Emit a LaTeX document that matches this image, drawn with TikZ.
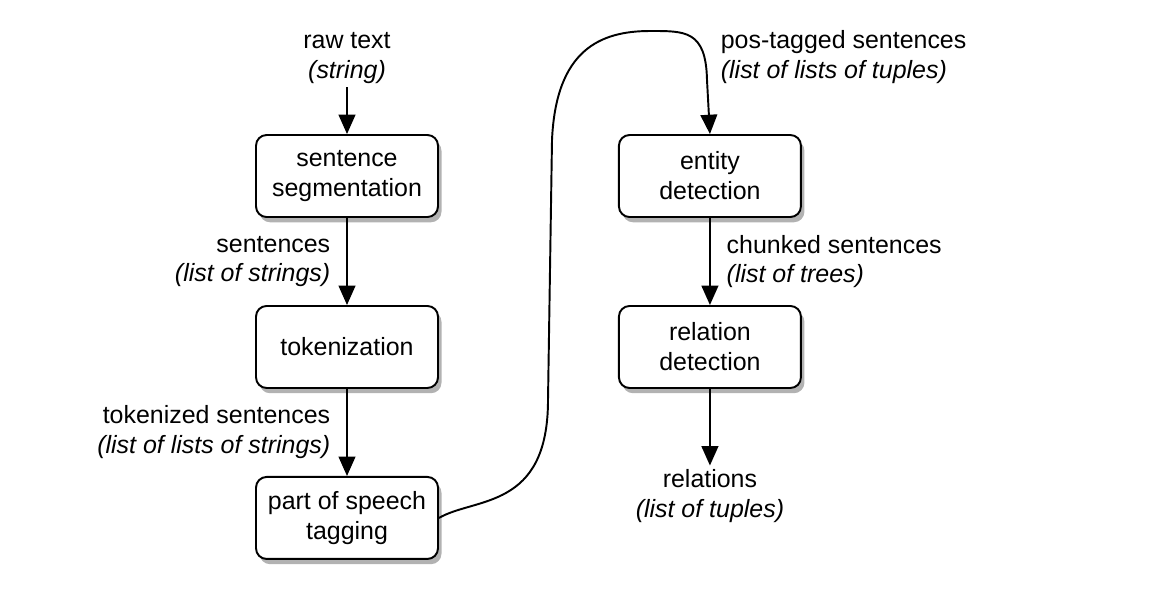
\documentclass[tikz,border=0pt]{standalone}
\usepackage{fontspec}
\setmainfont{Liberation Sans}
\usetikzlibrary{shadows, arrows.meta, positioning}

\tikzset{
  stage/.style={draw, line width=1.1pt, rounded corners=6pt, fill=white,
    minimum width=3.64cm, minimum height=1.64cm, align=center,
    drop shadow={shadow xshift=2pt, shadow yshift=-3pt, opacity=0.3, fill=black}},
  datum/.style={align=center, inner sep=2pt},
  flow/.style={-{Triangle[length=11pt,width=9.5pt]}, line width=1.1pt},
}
\newcommand{\kind}[1]{\textit{#1}}

\begin{document}
\begin{tikzpicture}[x=0.02cm, y=0.02cm, on grid, node distance=3.42cm and 7.26cm,
    font=\fontsize{14.2}{17}\selectfont]
  \useasboundingbox (0,0) rectangle (1176,-610);
  \node[stage] (s_seg) at (347,-176)  {sentence\\segmentation};
  \node[stage] (s_tok) [below=of s_seg] {tokenization};
  \node[stage] (s_pos) [below=of s_tok] {part of speech\\tagging};
  \node[stage] (s_ent) [right=of s_seg] {entity\\detection};
  \node[stage] (s_rel) [below=of s_ent] {relation\\detection};
  \node[datum] (d_raw) [above=2.36cm of s_seg] {raw text\\\kind{(string)}};
  \node[datum] (d_out) [below=2.98cm of s_rel] {relations\\\kind{(list of tuples)}};
  \node[datum, anchor=west, align=left] (d_tag) at (717,-57)
    {pos-tagged sentences\\\kind{(list of lists of tuples)}};
  \path[flow]
    (d_raw) edge (s_seg)
    (s_seg) edge node[datum, left=7pt, align=right]
      {sentences\\\kind{(list of strings)}} (s_tok)
    (s_tok) edge node[datum, left=7pt, align=right]
      {tokenized sentences\\\kind{(list of lists of strings)}} (s_pos)
    (s_ent) edge node[datum, right=7pt, align=left]
      {chunked sentences\\\kind{(list of trees)}} (s_rel)
    (s_rel) edge (d_out);
  % the long way round from tagging up to entity detection
  \draw[flow] (s_pos.east) .. controls (475,-497) and (548,-510) .. (548,-400)
    -- (552,-140) .. controls (556,-50) and (600,-31) .. (650,-31)
    .. controls (685,-31) and (706,-30) .. (707,-80) -- (s_ent.north);
\end{tikzpicture}
\end{document}
